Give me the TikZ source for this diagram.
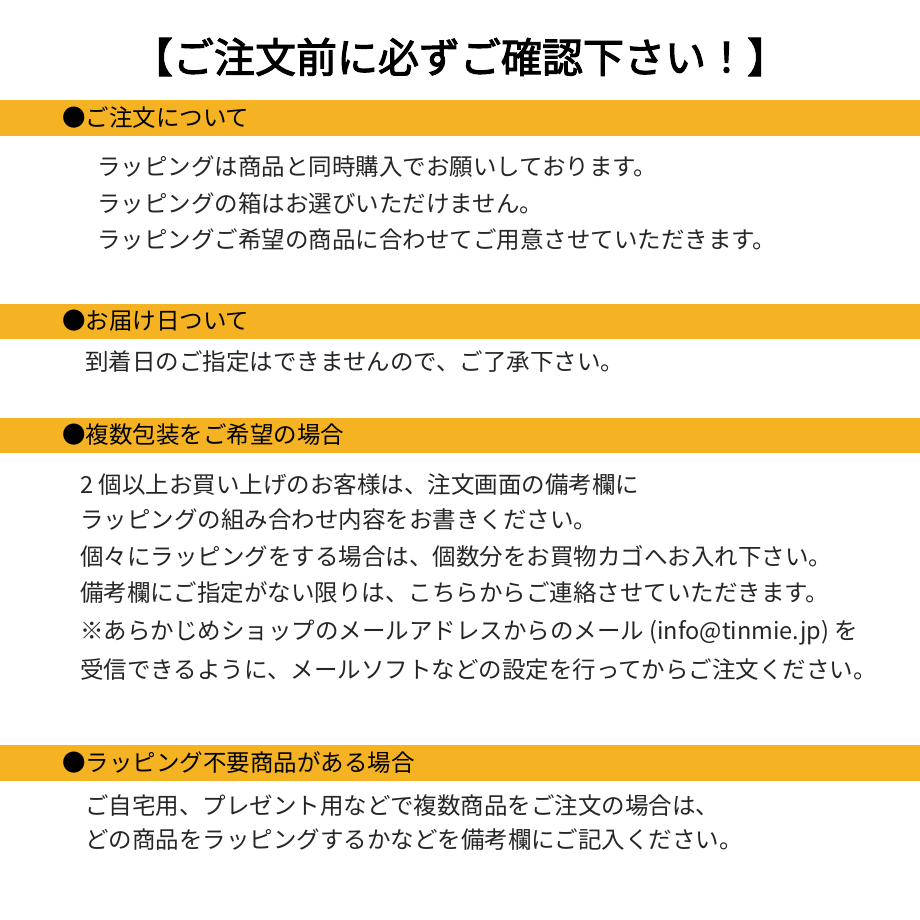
\documentclass[tikz,border=0pt]{standalone}
\usepackage{fontspec}
\newfontfamily\cjk{Noto Sans CJK JP}
\newfontfamily\cjkb[FakeBold=2.5]{Noto Sans CJK JP}
\definecolor{bar}{HTML}{F5B324}
\begin{document}
\begin{tikzpicture}[x=1pt,y=-1pt,
  txt/.style={anchor=west,inner sep=0,font=\cjk\fontsize{23.5}{26}\selectfont,text=black!85},
  hd/.style={anchor=west,inner sep=0,font=\cjk\fontsize{23.5}{26}\selectfont,text=black}]
\useasboundingbox (0,0) rectangle (920,920);
\fill[white] (0,0) rectangle (920,920);
\node[inner sep=0,font=\cjkb\fontsize{41}{44}\selectfont] (title) at (460,57) {【ご注文前に必ずご確認下さい！】};
\fill[bar] (0,100) rectangle (920,136);
\fill[bar] (0,304) rectangle (920,339);
\fill[bar] (0,418) rectangle (920,453);
\fill[bar] (0,745) rectangle (920,781);
\node[hd] (h1) at (62,118) {●ご注文について};
\node[hd] (h2) at (62,321) {●お届け日ついて};
\node[hd] (h3) at (62,435) {●複数包装をご希望の場合};
\node[hd] (h4) at (62,763) {●ラッピング不要商品がある場合};
\node[txt] (a1) at (97,167) {ラッピングは商品と同時購入でお願いしております。};
\node[txt] (a2) at (97,204) {ラッピングの箱はお選びいただけません。};
\node[txt] (a3) at (97,240) {ラッピングご希望の商品に合わせてご用意させていただきます。};
\node[txt] (b1) at (85,362) {到着日のご指定はできませんので、ご了承下さい。};
\node[txt] (c1) at (80,485) {2 個以上お買い上げのお客様は、注文画面の備考欄に};
\node[txt] (c2) at (80,520) {ラッピングの組み合わせ内容をお書きください。};
\node[txt] (c3) at (80,556) {個々にラッピングをする場合は、個数分をお買物カゴへお入れ下さい。};
\node[txt] (c4) at (80,593) {備考欄にご指定がない限りは、こちらからご連絡させていただきます。};
\node[txt] (c5) at (80,633) {※あらかじめショップのメールアドレスからのメール (info@tinmie.jp) を};
\node[txt] (c6) at (80,670) {受信できるように、メールソフトなどの設定を行ってからご注文ください。};
\node[txt] (d1) at (85,806) {ご自宅用、プレゼント用などで複数商品をご注文の場合は、};
\node[txt] (d2) at (85,840) {どの商品をラッピングするかなどを備考欄にご記入ください。};
\end{tikzpicture}
\end{document}
